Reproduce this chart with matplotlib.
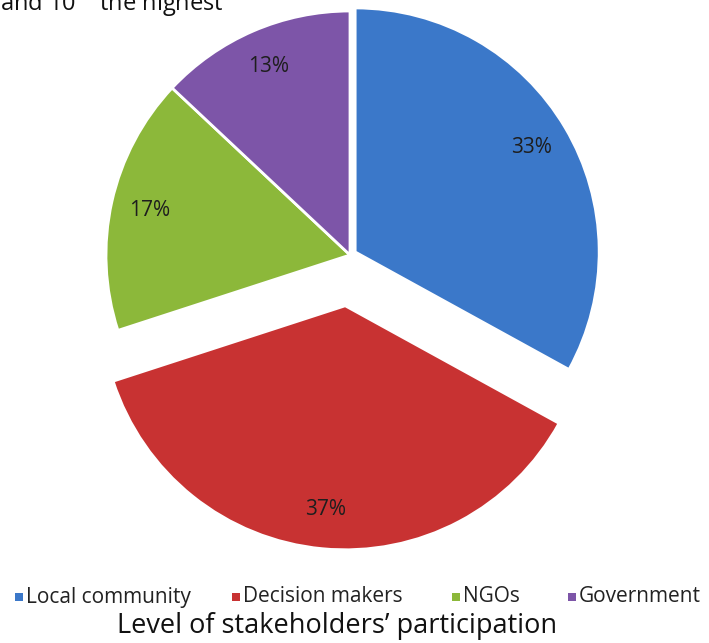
import matplotlib
matplotlib.use("Agg")
import matplotlib.pyplot as plt
from matplotlib.patches import Rectangle

# Data
categories = ["Local community", "Decision makers", "NGOs", "Government"]
shares = [33, 37, 17, 13]
colors = ["#3b78c9", "#c83232", "#8cb83a", "#7d55a8"]
title = "Level of stakeholders\u2019 participation"

W, H = 709, 643
fig = plt.figure(figsize=(W / 100, H / 100), dpi=100)
ax = fig.add_axes([0, 0, 1, 1])

# Pie geometry in pixel units (axes spans the whole figure)
cx, cy, r = 350, H - 255, 244
offsets = [6, 51, 0, 0]  # slice pull-out distance

wedges, texts, autotexts = ax.pie(
    shares,
    colors=colors,
    explode=offsets,
    startangle=90,
    counterclock=False,
    center=(cx, cy),
    radius=r,
    autopct="%.0f%%",
    pctdistance=0.84,
    wedgeprops=dict(edgecolor="white", linewidth=2),
    textprops=dict(fontsize=15, color="#1e1e1e", family="Open Sans"),
)
ax.set_xlim(0, W)
ax.set_ylim(0, H)
ax.set_aspect("equal")
ax.axis("off")

# Partial sentence at the top edge
fig.text(0.0, 1 - 11 / H, "and 10$^{th}$ the highest", fontsize=17,
         family="Open Sans", color="#111111", va="baseline", ha="left")

# Legend row
legend_x = [15, 232, 452, 568]
legend_y = 597
for x, name, col in zip(legend_x, categories, colors):
    fig.patches.append(Rectangle((x / W, (H - legend_y - 4) / H), 8 / W, 8 / H,
                                 transform=fig.transFigure, facecolor=col,
                                 edgecolor="none"))
    fig.text((x + 11) / W, (H - legend_y) / H, name, fontsize=15,
             family="Open Sans", color="#222222", va="center", ha="left")

fig.text(337 / W, 1 - 626 / H, title, fontsize=19.5, family="Open Sans",
         color="#111111", va="center", ha="center")

fig.savefig("out.png", dpi=100, facecolor="white")
